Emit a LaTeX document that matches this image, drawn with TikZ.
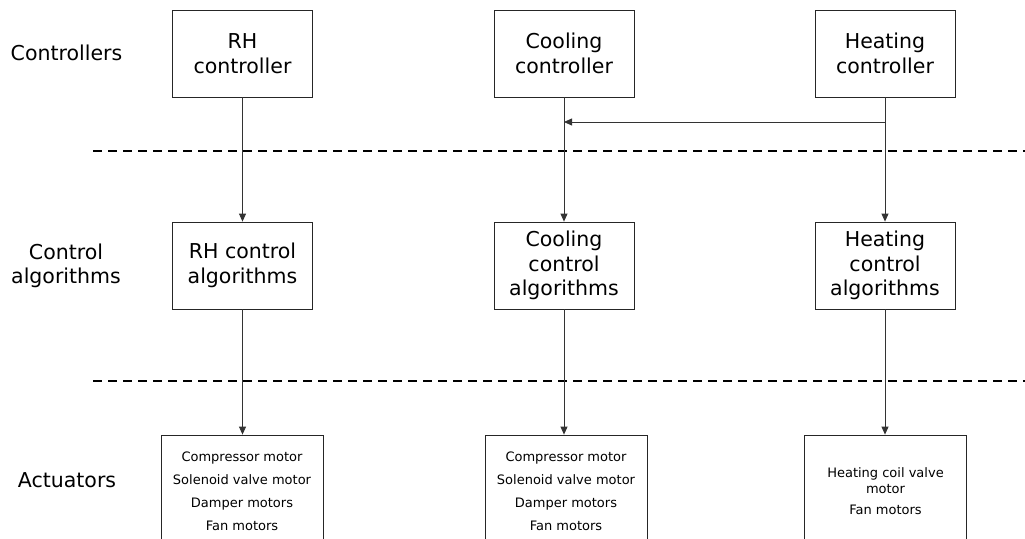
\documentclass[tikz,border=0pt]{standalone}
\usepackage{fontspec}
\setmainfont{DejaVu Sans}
\usetikzlibrary{arrows.meta}
\begin{document}
\begin{tikzpicture}[x=1pt,y=-1pt,
  bigbox/.style={draw=black!85, line width=0.8pt, minimum width=140pt, minimum height=87pt, inner sep=0pt, align=center, font=\fontsize{20.5}{24.5}\selectfont},
  actbox/.style={draw=black!85, line width=0.8pt, minimum width=162pt, minimum height=112pt, inner sep=0pt, align=center, font=\fontsize{13}{16}\selectfont},
  lbl/.style={align=center, font=\fontsize{20.5}{24.5}\selectfont},
  conn/.style={draw=black!80, line width=0.8pt, -{Triangle[length=8pt,width=7pt]}},
  sep/.style={draw=black, line width=1.8pt, dash pattern=on 9pt off 6pt}]
\useasboundingbox (0,0) rectangle (1025,538);
\node[lbl] (lc) at (66.5,53) {Controllers};
\node[lbl] (la) at (66,266) {Control\\algorithms};
\node[lbl] (lact) at (67,480) {Actuators};

\node[bigbox] (rhc) at (242.5,53.5) {RH\\controller};
\node[bigbox] (coc) at (564,53.5) {Cooling\\controller};
\node[bigbox] (hec) at (885,53.5) {Heating\\controller};

\node[bigbox] (rha) at (242.5,265.5) {RH control\\algorithms};
\node[bigbox] (coa) at (564,265.5) {Cooling\\control\\algorithms};
\node[bigbox] (hea) at (885,265.5) {Heating\\control\\algorithms};

\node[actbox] (rhx) at (242,491) {Compressor motor\\[7pt]Solenoid valve motor\\[7pt]Damper motors\\[7pt]Fan motors};
\node[actbox] (cox) at (566,491) {Compressor motor\\[7pt]Solenoid valve motor\\[7pt]Damper motors\\[7pt]Fan motors};
\node[actbox] (hex) at (885.5,491) {Heating coil valve\\motor\\[5pt]Fan motors};

\coordinate (a) at (93,151);
\coordinate (b) at (1025,151);
\coordinate (c) at (93,381);
\coordinate (d) at (1025,381);
\draw[sep] (a) -- (b);
\draw[sep] (c) -- (d);

\draw[conn] (rhc) -- (rha);
\draw[conn] (coc) -- (coa);
\draw[conn] (hec) -- (hea);
\draw[conn] (rha.south) -- (rhx.north -| rha.south);
\draw[conn] (coa) -- (cox.north -| coa.south);
\draw[conn] (hea) -- (hex.north -| hea.south);

\coordinate (hj) at (hec.south |- 0,122);
\coordinate (cj) at (coc.south |- 0,122);
\draw[conn] (hj) -- (cj);
\end{tikzpicture}
\end{document}
